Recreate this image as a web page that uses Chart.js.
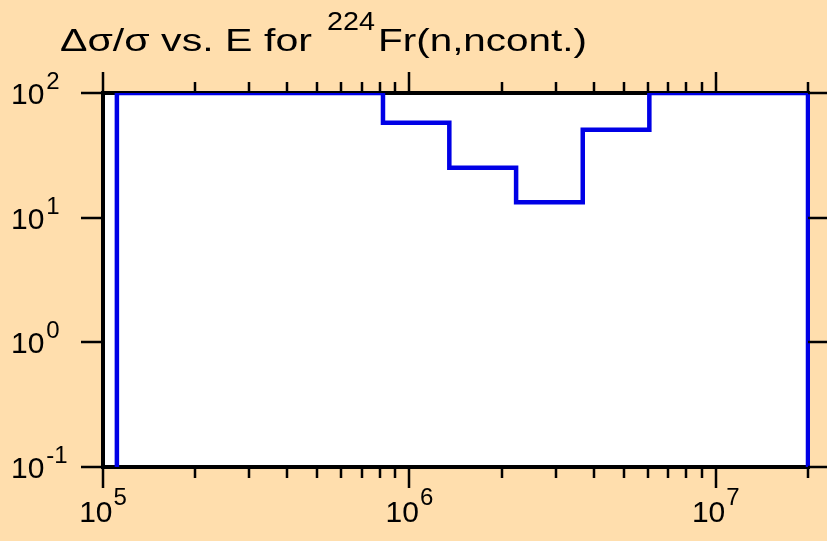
<!DOCTYPE html>
<html><head><meta charset="utf-8">
<script src="https://cdn.jsdelivr.net/npm/chart.js@4/dist/chart.umd.min.js"></script>
<style>html,body{margin:0;padding:0;background:#FFDEAD;} #wrap{width:827px;height:541px;position:relative}</style>
</head><body><div id="wrap"><canvas id="c" width="827" height="541"></canvas></div>
<script>
// ---- data ----
const groupBounds = [1.11e5, 8.2e5, 1.35e6, 2.23e6, 3.68e6, 6.07e6, 2.0e7];
const relUncert = [100, 57.7, 25.2, 13.3, 50.7, 100];
const xMajorExponents = [5, 6, 7];
const yMajorExponents = [-1, 0, 1, 2];
const xMinorTicks = [2e5,3e5,4e5,5e5,6e5,7e5,8e5,9e5,2e6,3e6,4e6,5e6,6e6,7e6,8e6,9e6,2e7];
const titleMain = 'Δσ/σ vs. E for';
const titleSup = '224';
const titleRest = 'Fr(n,ncont.)';

const yFloor = 0.1;
const pts = [{x: groupBounds[0], y: yFloor}];
for (let i = 0; i < relUncert.length; i++) pts.push({x: groupBounds[i], y: relUncert[i]});
pts.push({x: groupBounds[groupBounds.length-1], y: relUncert[relUncert.length-1]});
pts.push({x: groupBounds[groupBounds.length-1], y: yFloor});

const FONT = '"Liberation Sans", Arial, Helvetica, sans-serif';

function drawFit(ctx, text, x, y, width, font) {
  ctx.font = font;
  const w = ctx.measureText(text).width;
  ctx.save();
  ctx.translate(x, y);
  ctx.scale(width / w, 1);
  ctx.fillText(text, 0, 0);
  ctx.restore();
}

const deco = {
  id: 'deco',
  beforeDraw(chart) {
    const ctx = chart.ctx, a = chart.chartArea;
    ctx.save();
    ctx.fillStyle = '#FFDEAD';
    ctx.fillRect(0, 0, chart.width, chart.height);
    ctx.fillStyle = '#ffffff';
    ctx.fillRect(a.left, a.top, a.right - a.left, a.bottom - a.top);
    ctx.restore();
  },
  beforeDatasetsDraw(chart) {
    const ctx = chart.ctx, a = chart.chartArea;
    ctx.save();
    ctx.strokeStyle = '#000';
    ctx.lineWidth = 4;
    ctx.strokeRect(a.left, a.top, a.right - a.left, a.bottom - a.top);
    ctx.restore();
  },
  afterDatasetsDraw(chart) {
    const ctx = chart.ctx, a = chart.chartArea;
    const xs = chart.scales.x, ys = chart.scales.y;
    ctx.save();
    ctx.strokeStyle = '#000';
    ctx.lineWidth = 2.5;
    ctx.beginPath();
    xMajorExponents.forEach(e => {
      const px = Math.round(xs.getPixelForValue(Math.pow(10, e)));
      ctx.moveTo(px, a.bottom); ctx.lineTo(px, a.bottom + 21);
      ctx.moveTo(px, a.top); ctx.lineTo(px, a.top - 21);
    });
    xMinorTicks.forEach(v => {
      const px = Math.round(xs.getPixelForValue(v));
      ctx.moveTo(px, a.bottom); ctx.lineTo(px, a.bottom + 11);
      ctx.moveTo(px, a.top); ctx.lineTo(px, a.top - 11);
    });
    yMajorExponents.forEach(e => {
      const py = Math.round(ys.getPixelForValue(Math.pow(10, e)));
      ctx.moveTo(a.left, py); ctx.lineTo(a.left - 22, py);
      ctx.moveTo(a.right, py); ctx.lineTo(a.right + 20, py);
    });
    ctx.stroke();

    // tick labels
    ctx.fillStyle = '#000';
    ctx.textBaseline = 'alphabetic';
    ctx.textAlign = 'left';
    const baseFont = '30px ' + FONT, expFont = '24px ' + FONT;
    xMajorExponents.forEach(e => {
      const px = xs.getPixelForValue(Math.pow(10, e));
      ctx.font = baseFont; const w1 = ctx.measureText('10').width;
      ctx.font = expFont; const w2 = ctx.measureText(String(e)).width;
      const x0 = px - (w1 + w2 + 1) / 2;
      ctx.font = baseFont;
      ctx.fillText('10', x0, a.bottom + 55);
      ctx.font = expFont;
      ctx.fillText(String(e), x0 + w1 + 1, a.bottom + 38);
    });
    yMajorExponents.forEach(e => {
      const py = ys.getPixelForValue(Math.pow(10, e));
      ctx.font = baseFont;
      const w1 = ctx.measureText('10').width;
      ctx.fillText('10', 11, py + 11);
      ctx.font = expFont;
      ctx.fillText(String(e), 11 + w1 + 2, py - 4);
    });

    // title
    drawFit(ctx, titleMain, 60, 51, 252, '32px ' + FONT);
    drawFit(ctx, titleSup, 327, 30, 48, '25px ' + FONT);
    drawFit(ctx, titleRest, 378, 51, 209, '32px ' + FONT);
    ctx.restore();
  }
};

new Chart(document.getElementById('c'), {
  type: 'line',
  data: { datasets: [{
    data: pts,
    borderColor: '#0000e6',
    borderWidth: 4.5,
    stepped: 'before',
    pointRadius: 0,
    fill: false,
    clip: { left: 0, top: 0, right: 2, bottom: 0 }
  }]},
  options: {
    responsive: false,
    animation: false,
    devicePixelRatio: 1,
    layout: { padding: { top: 93, right: 19, left: 0, bottom: 0 } },
    plugins: { legend: { display: false }, tooltip: { enabled: false }, title: { display: false } },
    scales: {
      x: { type: 'logarithmic', min: 1e5, max: 2e7, grid: { display: false }, border: { display: false },
           ticks: { display: false }, afterFit: s => { s.height = 74; } },
      y: { type: 'logarithmic', min: 0.1, max: 100, grid: { display: false }, border: { display: false },
           ticks: { display: false }, afterFit: s => { s.width = 103; } }
    }
  },
  plugins: [deco]
});
</script>
</body></html>
